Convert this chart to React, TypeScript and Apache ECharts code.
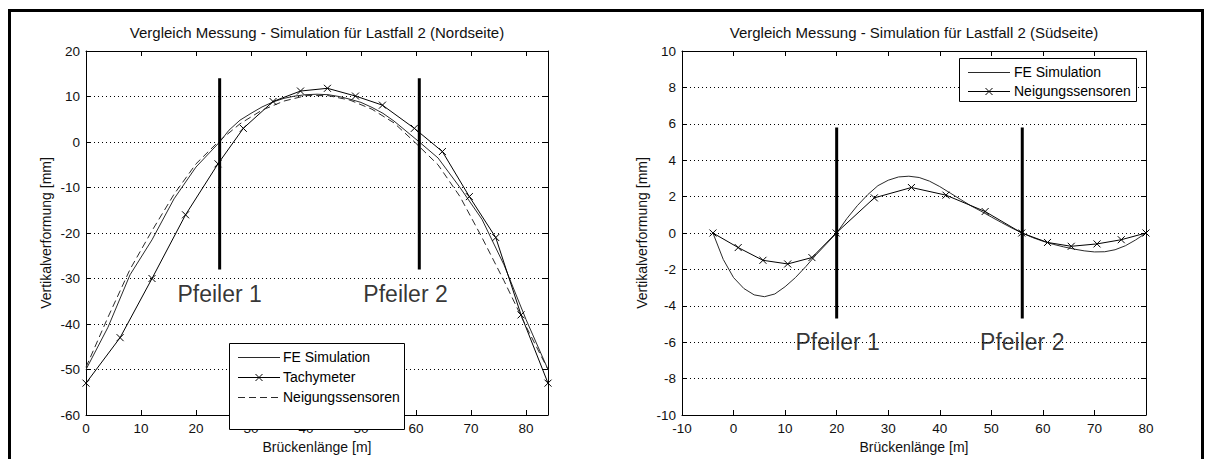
import React, { useEffect, useRef } from 'react';
import * as echarts from 'echarts';

// ---------- Left chart (Nordseite) ----------
const leftTitle = 'Vergleich Messung - Simulation für Lastfall 2 (Nordseite)';
const leftFeX = [0, 4, 8, 12, 16, 20, 24.3, 26, 28, 30, 32, 34, 36, 38, 40, 42, 44, 46, 48, 50, 52, 54, 56, 58, 60.6, 64, 68, 72, 76, 80, 84];
const leftFeY = [-50, -40.7, -29.2, -21.5, -12.5, -5.5, 0, 2.6, 4.8, 6.3, 7.7, 8.8, 9.6, 10.1, 10.4, 10.5, 10.4, 10.0, 9.4, 8.7, 7.6, 6.3, 4.6, 2.6, 0, -3.5, -10, -17, -27, -39, -50];
const leftTachyX = [0, 6.2, 12, 18.1, 24, 28.6, 34, 39, 43.9, 49, 53.9, 59.7, 64.8, 69.7, 74.5, 79.1, 84];
const leftTachyY = [-53, -43, -30, -16, -4.8, 3, 8.9, 11.2, 11.8, 10.1, 8.1, 3, -2.1, -12, -21, -38, -53];
const leftNeigX = [0, 4, 8, 12, 16, 20, 24, 28, 32, 36, 40, 44, 48, 52, 56, 60, 64, 68, 72, 76, 80, 84];
const leftNeigY = [-49.5, -38.5, -28, -19.5, -11.5, -4.8, 0, 4.0, 7.0, 9.0, 10.2, 10.2, 9.2, 7.2, 4.2, -0.3, -5, -12, -21, -30.5, -40.5, -50];
const leftPierX = [24.3, 60.6];
const leftPierTop = 14;
const leftPierBottom = -28;
const leftPierLabels = ['Pfeiler 1', 'Pfeiler 2'];
const leftPierLabelX = [24.3, 58.1];
const leftPierLabelY = -33.3;
const leftLegendNames = ['FE Simulation', 'Tachymeter', 'Neigungssensoren'];

// ---------- Right chart (Südseite) ----------
const rightTitle = 'Vergleich Messung - Simulation für Lastfall 2 (Südseite)';
const rightFeX = [-4, -2, 0, 2, 4, 6, 8, 10, 12, 14, 16, 18, 20, 22, 24, 26, 28, 30, 32, 34, 36, 38, 40, 42, 44, 46, 48, 50, 52, 54, 56, 58, 60, 62, 64, 66, 68, 70, 72, 74, 76, 78, 80];
const rightFeY = [0, -1.45, -2.45, -3.05, -3.4, -3.5, -3.35, -2.95, -2.45, -1.85, -1.2, -0.6, 0, 0.8, 1.5, 2.1, 2.6, 2.9, 3.08, 3.12, 3.05, 2.85, 2.55, 2.2, 1.85, 1.5, 1.2, 0.88, 0.57, 0.27, 0, -0.25, -0.45, -0.62, -0.76, -0.88, -0.98, -1.04, -1.03, -0.92, -0.7, -0.38, 0];
const rightNeigX = [-4, 0.9, 5.7, 10.5, 15.2, 19.9, 27.3, 34.5, 41.2, 48.8, 55.9, 60.9, 65.5, 70.5, 75.2, 80];
const rightNeigY = [0, -0.8, -1.5, -1.7, -1.35, 0, 1.93, 2.5, 2.08, 1.18, 0, -0.52, -0.73, -0.6, -0.37, 0];
const rightPierX = [20, 56];
const rightPierTop = 5.8;
const rightPierBottom = -4.7;
const rightPierLabels = ['Pfeiler 1', 'Pfeiler 2'];
const rightPierLabelX = [20.2, 56];
const rightPierLabelY = -6;
const rightLegendNames = ['FE Simulation', 'Neigungssensoren'];

const xAxisName = 'Brückenlänge [m]';
const yAxisName = 'Vertikalverformung [mm]';

const FONT = "'Liberation Sans', Arial, Helvetica, sans-serif";
const CROSS = 'path://M0,0L10,10M10,0L0,10';

const zip = (xs: number[], ys: number[]) => xs.map((x, i) => [x, ys[i]]);

function mainX(gridIndex: number, min: number, max: number, hideMax: boolean) {
  return {
    type: 'value', gridIndex, position: 'bottom', min, max, interval: 10,
    name: xAxisName, nameLocation: 'middle', nameGap: 25,
    nameTextStyle: { fontFamily: FONT, fontSize: 14, color: '#111' },
    axisLine: { show: true, onZero: false, lineStyle: { color: '#000', width: 1 } },
    axisTick: { show: true, inside: true, length: 5, lineStyle: { color: '#000' } },
    axisLabel: { show: true, margin: 6, fontFamily: FONT, fontSize: 13.5, color: '#111', showMaxLabel: !hideMax },
    splitLine: { show: false },
  };
}
function topX(gridIndex: number, min: number, max: number) {
  return {
    type: 'value', gridIndex, position: 'top', min, max, interval: 10,
    axisLine: { show: true, onZero: false, lineStyle: { color: '#000', width: 1 } },
    axisTick: { show: true, inside: true, length: 5, lineStyle: { color: '#000' } },
    axisLabel: { show: false }, splitLine: { show: false },
  };
}
function mainY(gridIndex: number, min: number, max: number, interval: number) {
  return {
    type: 'value', gridIndex, position: 'left', min, max, interval,
    name: yAxisName, nameLocation: 'middle', nameGap: 33, nameRotate: 90,
    nameTextStyle: { fontFamily: FONT, fontSize: 14, color: '#111' },
    axisLine: { show: true, onZero: false, lineStyle: { color: '#000', width: 1 } },
    axisTick: { show: true, inside: true, length: 5, lineStyle: { color: '#000' } },
    axisLabel: { show: true, margin: 6, fontFamily: FONT, fontSize: 13.5, color: '#111' },
    splitLine: { show: true, lineStyle: { color: '#000', width: 1, type: [1, 3] } },
  };
}
function rightY(gridIndex: number, min: number, max: number, interval: number) {
  return {
    type: 'value', gridIndex, position: 'right', min, max, interval,
    axisLine: { show: true, onZero: false, lineStyle: { color: '#000', width: 1 } },
    axisTick: { show: true, inside: true, length: 5, lineStyle: { color: '#000' } },
    axisLabel: { show: false }, splitLine: { show: false },
  };
}

function lineSeries(name: string, data: number[][], xi: number, yi: number, kind: string) {
  const s: any = {
    name, type: 'line', xAxisIndex: xi, yAxisIndex: yi, data, silent: true,
    lineStyle: { color: kind === 'cross' ? '#000' : '#2a2a2a', width: 1, type: kind === 'dashed' ? [7, 4] : 'solid' },
    symbol: 'none', z: 3,
  };
  if (kind === 'cross') {
    s.symbol = CROSS;
    s.symbolSize = 7;
    s.showSymbol = true;
    s.itemStyle = { color: 'rgba(0,0,0,0)', borderColor: '#000', borderWidth: 1 };
  }
  return s;
}

function pierSeries(xs: number[], top: number, bottom: number, xi: number, yi: number) {
  return xs.map((x) => ({
    type: 'line', xAxisIndex: xi, yAxisIndex: yi, silent: true, symbol: 'none', z: 4,
    data: [[x, top], [x, bottom]],
    lineStyle: { color: '#000', width: 3 },
  }));
}

function pierLabels(names: string[], xs: number[], y: number, xi: number, yi: number) {
  return {
    type: 'scatter', xAxisIndex: xi, yAxisIndex: yi, silent: true, symbolSize: 1, z: 5,
    itemStyle: { color: 'rgba(0,0,0,0)' },
    data: names.map((n, i) => ({ name: n, value: [xs[i], y] })),
    label: { show: true, position: 'inside', formatter: (p: any) => p.name, fontFamily: FONT, fontSize: 23, color: '#000' },
  };
}

function legendGraphic(x: number, y: number, w: number, rowsY: number[], names: string[], kinds: string[], lx1: number, lx2: number, tx: number) {
  const h = rowsY[rowsY.length - 1] - rowsY[0] + (rowsY.length > 2 ? 46 : 43) - (rowsY.length > 2 ? 0 : 19);
  const els: any[] = [];
  els.push({ type: 'rect', z: 100, shape: { x, y, width: w, height: h }, style: { fill: '#fff', stroke: '#000', lineWidth: 1 } });
  rowsY.forEach((cy, i) => {
    const kind = kinds[i];
    els.push({ type: 'line', z: 101, shape: { x1: lx1, y1: cy + 0.5, x2: lx2, y2: cy + 0.5 },
      style: { stroke: kind === 'cross' ? '#000' : '#2a2a2a', lineWidth: 1, lineDash: kind === 'dashed' ? [7, 4] : null } });
    if (kind === 'cross') {
      const cx = (lx1 + lx2) / 2;
      els.push({ type: 'line', z: 102, shape: { x1: cx - 3.5, y1: cy - 3, x2: cx + 3.5, y2: cy + 4 }, style: { stroke: '#000', lineWidth: 1 } });
      els.push({ type: 'line', z: 102, shape: { x1: cx + 3.5, y1: cy - 3, x2: cx - 3.5, y2: cy + 4 }, style: { stroke: '#000', lineWidth: 1 } });
    }
    els.push({ type: 'text', z: 102, x: tx, y: cy, style: { text: names[i], fontFamily: FONT, fontSize: 14, fill: '#000', verticalAlign: 'middle', align: 'left' } });
  });
  return els;
}

export default function App() {
  const ref = useRef<HTMLDivElement>(null);
  useEffect(() => {
    document.body.style.margin = '0';
    const chart = echarts.init(ref.current!, null, { renderer: 'svg' });
    const option: any = {
      animation: false,
      backgroundColor: '#fff',
      title: [
        { text: leftTitle, left: 317, top: 25, textAlign: 'center', padding: 0, textStyle: { fontFamily: FONT, fontSize: 15, fontWeight: 'normal', color: '#111' } },
        { text: rightTitle, left: 914, top: 25, textAlign: 'center', padding: 0, textStyle: { fontFamily: FONT, fontSize: 15, fontWeight: 'normal', color: '#111' } },
      ],
      grid: [
        { left: 86, top: 51, width: 462, height: 365 },
        { left: 682, top: 51, width: 464, height: 365 },
      ],
      xAxis: [mainX(0, 0, 84, true), topX(0, 0, 84), mainX(1, -10, 80, false), topX(1, -10, 80)],
      yAxis: [mainY(0, -60, 20, 10), rightY(0, -60, 20, 10), mainY(1, -10, 10, 2), rightY(1, -10, 10, 2)],
      series: [
        lineSeries('FE Simulation', zip(leftFeX, leftFeY), 0, 0, 'solid'),
        lineSeries('Tachymeter', zip(leftTachyX, leftTachyY), 0, 0, 'cross'),
        lineSeries('Neigungssensoren', zip(leftNeigX, leftNeigY), 0, 0, 'dashed'),
        ...pierSeries(leftPierX, leftPierTop, leftPierBottom, 0, 0),
        pierLabels(leftPierLabels, leftPierLabelX, leftPierLabelY, 0, 0),
        lineSeries('FE Simulation', zip(rightFeX, rightFeY), 2, 2, 'solid'),
        lineSeries('Neigungssensoren', zip(rightNeigX, rightNeigY), 2, 2, 'cross'),
        ...pierSeries(rightPierX, rightPierTop, rightPierBottom, 2, 2),
        pierLabels(rightPierLabels, rightPierLabelX, rightPierLabelY, 2, 2),
      ],
      graphic: [
        { type: 'rect', z: 200, shape: { x: 9.5, y: 10.5, width: 1193, height: 470 }, style: { fill: 'none', stroke: '#000', lineWidth: 3 } },
        ...legendGraphic(229.5, 343.5, 175, [357, 377, 397], leftLegendNames, ['solid', 'cross', 'dashed'], 238, 280, 283),
        ...legendGraphic(959.5, 58.5, 177, [72, 91], rightLegendNames, ['solid', 'cross'], 968, 1010, 1014),
      ],
    };
    chart.setOption(option);
    return () => chart.dispose();
  }, []);
  return <div ref={ref} style={{ width: 1206, height: 459 }} />;
}
